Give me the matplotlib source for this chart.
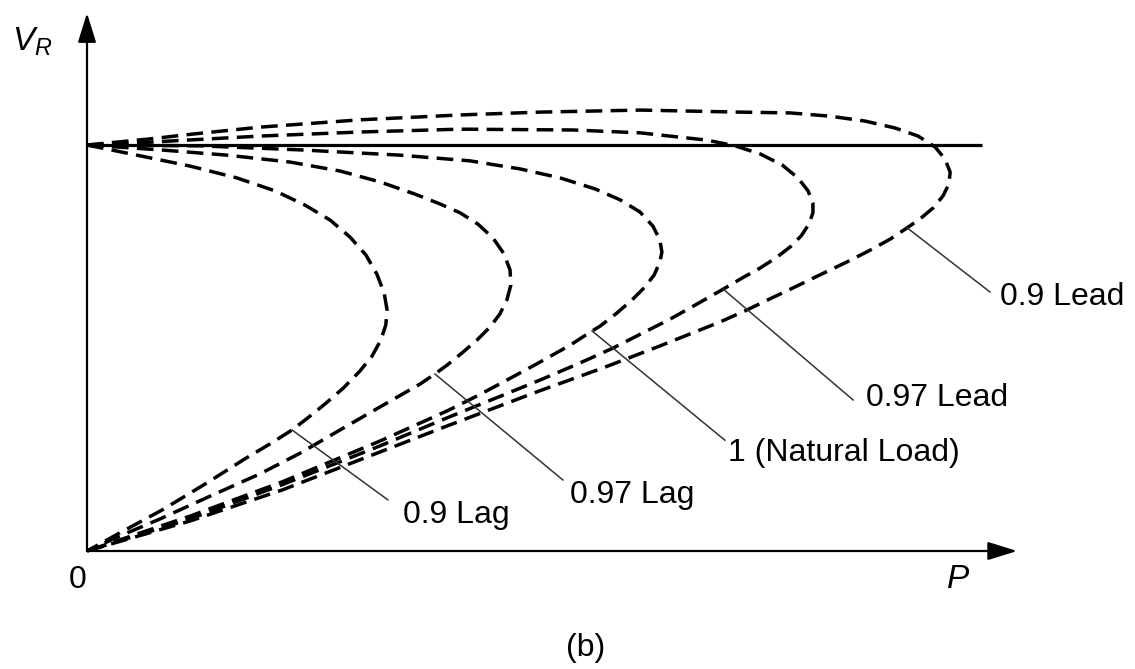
### 受電端電圧 V_R と送電電力 P の関係 (力率ごとのノーズカーブ)
import matplotlib
matplotlib.use("Agg")
import matplotlib.pyplot as plt

plt.rcParams['font.family'] = ['Liberation Sans', 'DejaVu Sans']
plt.rcParams['mathtext.fontset'] = 'custom'
plt.rcParams['mathtext.it'] = 'Liberation Sans:italic'
plt.rcParams['mathtext.rm'] = 'Liberation Sans'

# --- データ (P, V_R は 単位法, 図から読み取り) --- #
p_lag90 = [0, 0.123, 0.254, 0.369, 0.463, 0.537, 0.599, 0.648, 0.687, 0.714, 0.732, 0.739,
           0.736, 0.724, 0.702, 0.672, 0.631, 0.586, 0.544, 0.505, 0.451, 0.389, 0.291,
           0.185, 0.076, 0]
v_lag90 = [1.000, 0.975, 0.948, 0.919, 0.887, 0.852, 0.815, 0.773, 0.729, 0.682, 0.635, 0.594,
           0.557, 0.520, 0.480, 0.443, 0.401, 0.362, 0.328, 0.298, 0.264, 0.227, 0.165,
           0.101, 0.042, 0]

p_lag97 = [0, 0.180, 0.345, 0.500, 0.623, 0.722, 0.808, 0.869, 0.919, 0.963, 1.000, 1.027,
           1.042, 1.044, 1.034, 1.017, 0.993, 0.961, 0.924, 0.887, 0.857, 0.820, 0.722,
           0.623, 0.525, 0.426, 0.303, 0.180, 0.081, 0]
v_lag97 = [1.000, 0.988, 0.975, 0.958, 0.936, 0.909, 0.879, 0.855, 0.833, 0.805, 0.771, 0.732,
           0.692, 0.655, 0.618, 0.584, 0.552, 0.520, 0.488, 0.458, 0.436, 0.411, 0.355,
           0.298, 0.241, 0.190, 0.135, 0.079, 0.037, 0]

p_unity = [0, 0.278, 0.525, 0.771, 0.943, 1.067, 1.165, 1.251, 1.313, 1.362, 1.394, 1.411,
           1.416, 1.411, 1.397, 1.374, 1.342, 1.305, 1.264, 1.244, 1.190, 1.108, 1.025,
           0.961, 0.887, 0.722, 0.480, 0.254, 0]
v_unity = [1.000, 0.998, 0.988, 0.975, 0.961, 0.941, 0.919, 0.892, 0.865, 0.835, 0.800, 0.766,
           0.736, 0.712, 0.680, 0.650, 0.618, 0.586, 0.554, 0.542, 0.507, 0.461, 0.416,
           0.382, 0.345, 0.271, 0.170, 0.086, 0]

p_lead97 = [0, 0.155, 0.426, 0.672, 0.919, 1.197, 1.362, 1.527, 1.596, 1.658, 1.712, 1.751,
            1.776, 1.788, 1.788, 1.778, 1.759, 1.732, 1.697, 1.658, 1.613, 1.567, 1.502,
            1.436, 1.355, 1.296, 1.214, 1.123, 1.025, 0.887, 0.722, 0.480, 0.254, 0]
v_lead97 = [1.000, 1.007, 1.022, 1.032, 1.039, 1.037, 1.030, 1.012, 0.998, 0.978, 0.951, 0.919,
            0.887, 0.857, 0.833, 0.805, 0.776, 0.749, 0.722, 0.697, 0.672, 0.645, 0.608,
            0.571, 0.530, 0.500, 0.463, 0.424, 0.384, 0.328, 0.259, 0.163, 0.079, 0]

p_lead90 = [0, 0.155, 0.261, 0.426, 0.672, 0.919, 1.116, 1.362, 1.608, 1.732, 1.830, 1.916,
            1.990, 2.047, 2.089, 2.113, 2.126, 2.123, 2.108, 2.084, 2.052, 2.020, 1.978,
            1.929, 1.872, 1.805, 1.739, 1.682, 1.626, 1.559, 1.411, 1.271, 1.108, 0.887,
            0.722, 0.480, 0.254, 0]
v_lead90 = [1.000, 1.015, 1.027, 1.044, 1.062, 1.074, 1.081, 1.086, 1.081, 1.079, 1.071, 1.059,
            1.042, 1.022, 0.995, 0.966, 0.933, 0.904, 0.874, 0.845, 0.818, 0.796, 0.768,
            0.741, 0.712, 0.680, 0.648, 0.621, 0.594, 0.564, 0.505, 0.451, 0.392, 0.308,
            0.244, 0.150, 0.074, 0]

v_flat = 1.0     # 無損失線路の一定電圧
p_flat_end = 2.204

labels = ["0.9 Lag", "0.97 Lag", "1 (Natural Load)", "0.97 Lead", "0.9 Lead"]
curves = [(p_lag90, v_lag90), (p_lag97, v_lag97), (p_unity, v_unity),
          (p_lead97, v_lead97), (p_lead90, v_lead90)]
label_idx = [19, 20, 19, 21, 21]   # 引出線をつけるカーブ上の点
# 引出線の終点 と 文字の位置
leader_end = [(0.741, 0.126), (1.172, 0.175), (1.571, 0.273), (1.887, 0.372), (2.224, 0.638)]
text_pos = [(0.778, 0.089), (1.190, 0.138), (1.579, 0.241), (1.919, 0.377), (2.249, 0.626)]

fig = plt.figure(figsize=(11.35, 6.69), dpi=100)
ax = fig.add_axes([0, 0, 1, 1])
ax.set_xlim(-87 / 406, (1135 - 87) / 406)
ax.set_ylim(-118 / 406, 551 / 406)
ax.axis("off")

# 軸 (矢印)
arrow = dict(arrowstyle="-|>,head_length=0.9,head_width=0.28", lw=1.6,
             color="black", mutation_scale=20, shrinkA=0, shrinkB=0)
ax.annotate("", xy=(0, 1.325), xytext=(0, 0), arrowprops=arrow)
ax.annotate("", xy=(2.291, 0), xytext=(0, 0), arrowprops=arrow)

ax.plot([0, p_flat_end], [v_flat, v_flat], color="black", lw=2.3, solid_capstyle="butt")

for (p, v) in curves:
    ax.plot(p, v, color="black", lw=2.5, dashes=(4.8, 2.4))

for i in range(len(labels)):
    p, v = curves[i]
    k = label_idx[i]
    ax.plot([p[k], leader_end[i][0]], [v[k], leader_end[i][1]], color="#333333", lw=1.1)
    ax.text(text_pos[i][0], text_pos[i][1], labels[i], fontsize=23, ha="left", va="center")

ax.text(-0.135, 1.254, r"$V_R$", fontsize=24, ha="center", va="center")
ax.text(-0.022, -0.071, "0", fontsize=23, ha="center", va="center")
ax.text(2.145, -0.071, r"$P$", fontsize=24, ha="center", va="center")
ax.text(1.227, -0.239, "(b)", fontsize=23, ha="center", va="center")

fig.savefig("out.png", dpi=100)
